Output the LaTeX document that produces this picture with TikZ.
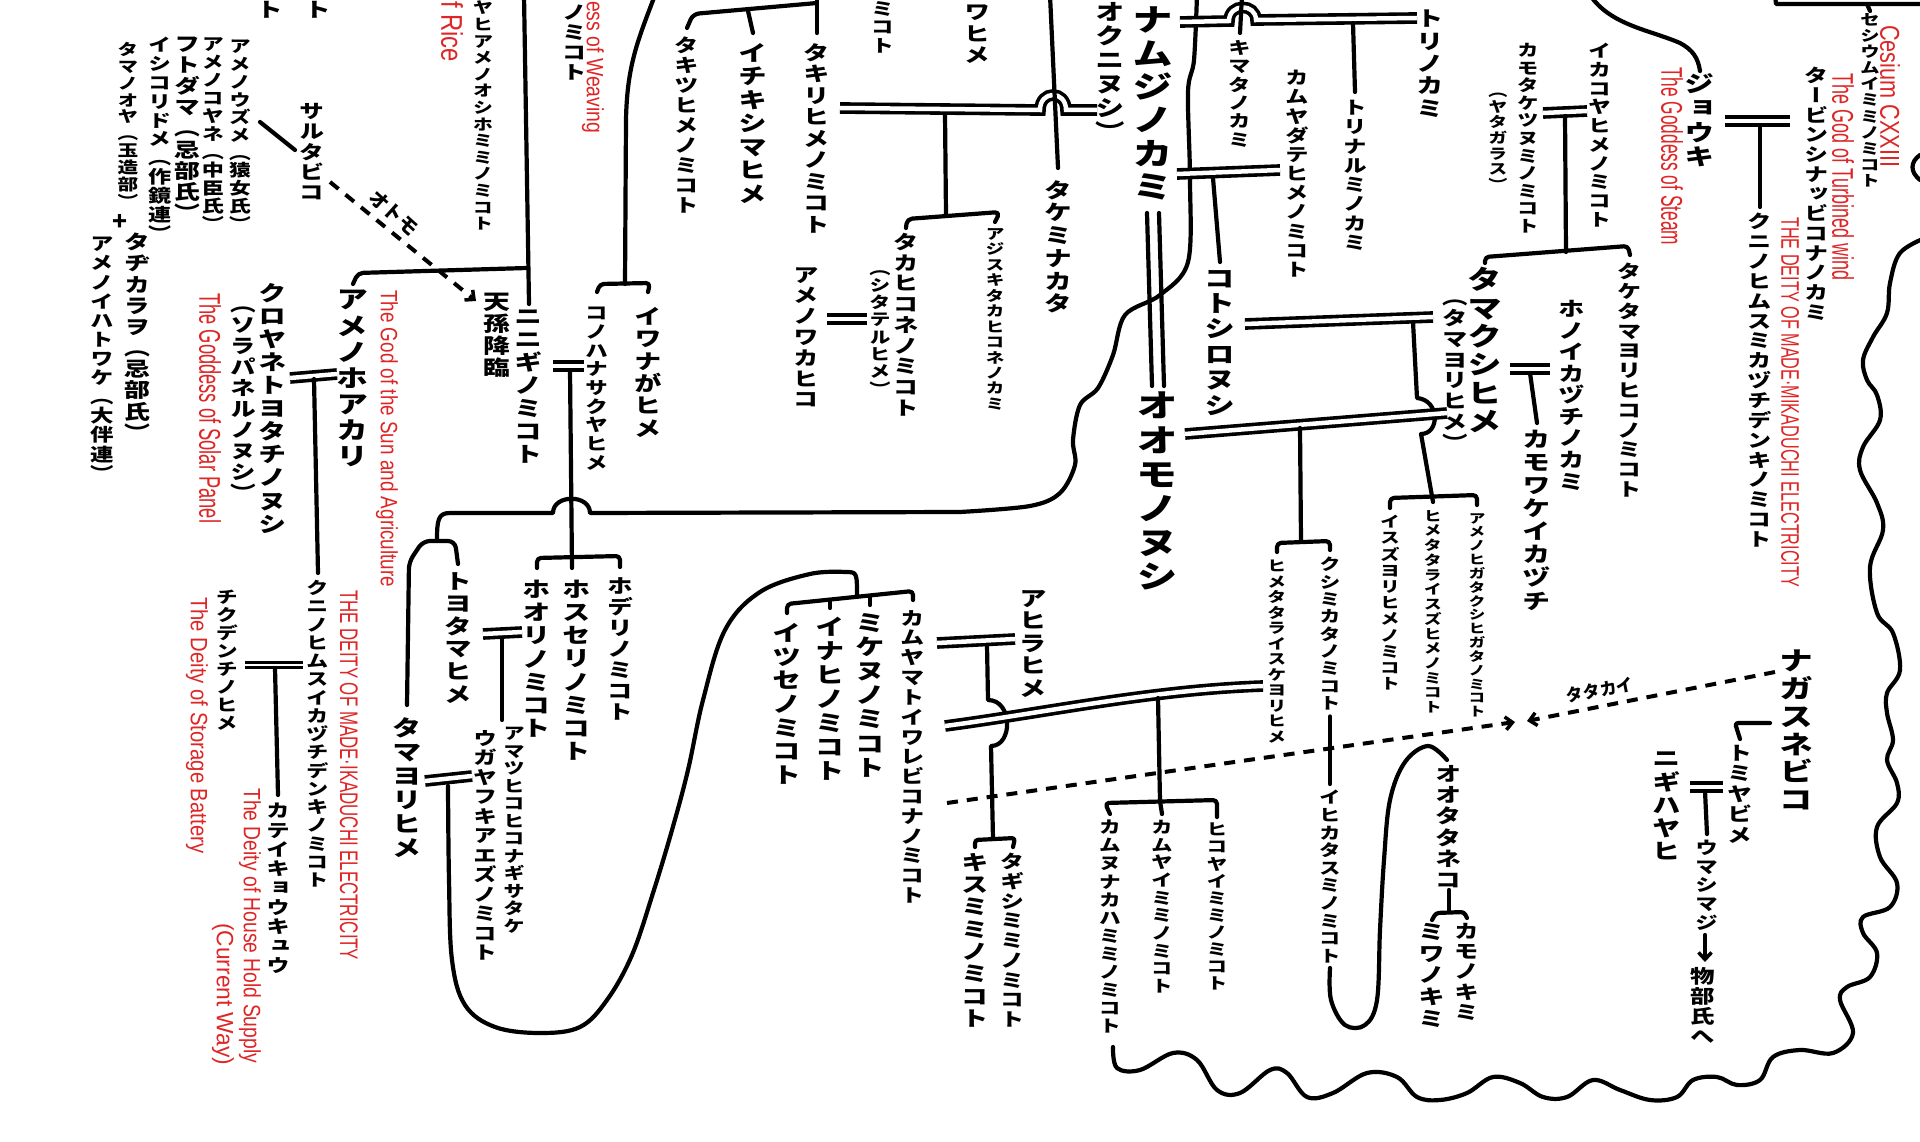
\documentclass[tikz,border=0pt]{standalone}
\usepackage{fontspec}
\usepackage{graphicx}
\usetikzlibrary{arrows.meta}
\newfontfamily\jpv{Noto Sans CJK JP}[RawFeature=+vert]
\newfontfamily\jph{Noto Sans CJK JP}
\newfontfamily\enred{Liberation Sans}
\definecolor{redink}{RGB}{222,38,38}
\makeatletter
\newcommand\vstack[1]{\vbox{\jpv\bfseries\baselineskip=1.06em\lineskiplimit=-\maxdimen\lineskip=0pt\relax\vs@loop#1\relax}}
\def\vs@loop#1{\ifx#1\relax\else\hbox to 1em{\hss#1\hss}\expandafter\vs@loop\fi}
\makeatother
\tikzset{
  vt/.style={inner sep=0pt, anchor=north},
  rt/.style={inner sep=0pt, anchor=west, rotate=-90, text=redink},
  ln/.style={line width=4.2pt, line cap=round, line join=round},
  dbl/.style={draw=black, double=white, double distance=4.5pt, line width=3.6pt},
  dsh/.style={line width=4pt, dash pattern=on 11pt off 9pt},
  barb/.style={-{Straight Barb[length=7pt,width=13pt,line width=3.5pt]}}
}
\newcommand\V[5]{\node[vt] (#1) at (#2,#3) {\scalebox{1.3}[1]{\resizebox*{!}{#4pt}{\vstack{#5}}}};}
\newcommand\R[6]{\node[rt] (#1) at (#2,#3) {\resizebox*{#4pt}{#5pt}{\enred #6}};}
\begin{document}
\begin{tikzpicture}[x=1pt,y=-1pt]
\fill[white] (0,0) rectangle (1920,1142);
\useasboundingbox (0,0) rectangle (1920,1142);

% ---------- text: left group ----------
\V{uzume}{240}{40}{190}{アメノウズメ（猿女氏）}
\V{koyane}{213}{37}{193}{アメノコヤネ（中臣氏）}
\V{futodama}{187}{37}{183}{フトダマ（忌部氏）}
\V{ishikori}{160}{37}{203}{イシコリドメ（作鏡連）}
\V{tamanooya}{128}{42}{165}{タマノオヤ（玉造部）}
\node[inner sep=0] (plus) at (120,222) {\resizebox{15pt}{!}{\jph\bfseries +}};
\V{tajikara}{137}{233}{207}{タヂカラヲ（忌部氏）}
\V{iwato}{102}{237}{243}{アメノイハトワケ（大伴連）}
\V{saruta}{312}{103}{97}{サルタビコ}
\V{tenson}{497}{293}{84}{天孫降臨}
\V{ninigi}{529}{310}{153}{ニニギノミコト}
\V{konohana}{597}{307}{163}{コノハナサクヤヒメ}
\V{iwanaga}{648}{307}{130}{イワナがヒメ}
\V{hoakari}{353}{290}{177}{アメノホアカリ}
\V{kuroyane}{273}{283}{250}{クロヤネトヨタチノヌシ}
\V{sorapanel}{243}{307}{193}{（ソラパネルノヌシ）}
\V{kuninohimuA}{318}{580}{307}{クニノヒムスイカヅチデンキノミコト}
\V{chikuden}{227}{590}{140}{チクデンチノヒメ}
\V{katei}{278}{803}{170}{カテイキョウキュウ}
\V{toyotama}{458}{572}{131}{トヨタマヒメ}
\V{hoori}{537}{580}{157}{ホオリノミコト}
\V{hosuseri}{577}{580}{180}{ホスセリノミコト}
\V{hoderi}{620}{577}{143}{ホデリノミコト}
\V{amatsu}{514}{727}{206}{アマツヒコヒコナギサタケ}
\V{ugaya}{485}{730}{230}{ウガヤフキアエズノミコト}
\V{tamayoriA}{407}{717}{140}{タマヨリヒメ}
\V{itsuse}{787}{623}{161}{イツセノミコト}
\V{inahi}{830}{617}{163}{イナヒノミコト}
\V{mikenu}{870}{613}{164}{ミケヌノミコト}
\V{kamuyamato}{913}{610}{293}{カムヤマトイワレビコナノミコト}

% ---------- text: top tails ----------
\V{tA}{270}{1}{17}{ト}
\V{tB}{318}{1}{17}{ト}
\V{tC}{483}{1}{229}{ヤヒアメノオシホミミノミコト}
\V{tD}{575}{5}{75}{ノミコト}
\V{tE}{883}{1}{52}{ミコト}
\V{tF}{977}{5}{58}{ワヒメ}
\V{tG}{1110}{2}{138}{オクニヌシ）}
\V{tH}{1153}{7}{193}{ナムジノカミ}
\V{tI}{1430}{10}{107}{トリノカミ}

% ---------- text: middle ----------
\V{takitsu}{687}{37}{176}{タキツヒメノミコト}
\V{ichiki}{753}{43}{160}{イチキシマヒメ}
\V{takiri}{817}{43}{190}{タキリヒメノミコト}
\V{takahikone}{906}{233}{183}{タカヒコネノミコト}
\V{shitateru}{880}{270}{125}{（シタテルヒメ）}
\V{wakahiko}{806}{267}{140}{アメノワカヒコ}
\V{ajisuki}{995}{228}{182}{アジスキタカヒコネノカミ}
\V{takemina}{1058}{180}{133}{タケミナカタ}
\V{kimata}{1240}{40}{107}{キマタノカミ}
\V{torinaru}{1355}{100}{150}{トリナルミノカミ}
\V{kamuyadate}{1297}{70}{207}{カムヤダテヒメノミコト}
\V{kotoshiro}{1220}{270}{145}{コトシロヌシ}
\V{omono}{1157}{392}{198}{オオモノヌシ}
\V{tamakushi}{1485}{267}{166}{タマクシヒメ}
\V{tamayoriB}{1455}{300}{150}{（タマヨリヒメ）}
\V{kamotake}{1528}{43}{190}{カモタケツヌミノミコト}
\V{yatagarasu}{1498}{93}{97}{（ヤタガラス）}
\V{ikakoya}{1600}{43}{184}{イカコヤヒメノミコト}
\V{taketama}{1630}{263}{234}{タケタマヨリヒコノミコト}
\V{honoikazuchi}{1572}{300}{190}{ホノイカヅチノカミ}
\V{kamowake}{1537}{430}{180}{カモワケイカヅチ}
\V{jouki}{1700}{73}{94}{ジョウキ}
\V{kuninohimuB}{1760}{213}{334}{クニノヒムスミカヅチデンキノミコト}
\V{turbine}{1817}{67}{253}{タービンシナッビコナノカミ}
\V{cesium}{1870}{13}{174}{セシウムイミミノミコト}
\V{isuzuyori}{1390}{515}{175}{イスズヨリヒメノミコト}
\V{himetatarai}{1433}{510}{203}{ヒメタタライスズヒメノミコト}
\V{amenohigata}{1477}{513}{204}{アメノヒガタクシヒガタノミコト}
\V{himesuke}{1277}{560}{183}{ヒメタタライスケヨリヒメ}
\V{kushimikata}{1330}{557}{153}{クシミカタノミコト}
\V{ihikata}{1330}{790}{173}{イヒカタスミノミコト}
\V{ootataneko}{1449}{765}{123}{オオタタネコ}
\V{miwa}{1432}{923}{104}{ミワノキミ}
\V{kamonokimi}{1467}{923}{97}{カモノキミ}
\V{ahira}{1033}{590}{107}{アヒラヒメ}
\V{kisumimi}{975}{853}{174}{キスミミノミコト}
\V{tagishi}{1013}{853}{174}{タギシミミノミコト}
\V{kamununa}{1110}{820}{213}{カムヌナカハミミノミコト}
\V{kamuyai}{1162}{820}{173}{カムヤイミミノミコト}
\V{hikoyai}{1217}{823}{167}{ヒコヤイミミノミコト}
\V{nagasune}{1797}{650}{160}{ナガスネビコ}
\V{tomiya}{1740}{745}{98}{トミヤビメ}
\V{nigihaya}{1667}{752}{108}{ニギハヤヒ}
\V{umashi}{1707}{840}{90}{ウマシマジ}
\V{mononobe}{1703}{967}{76}{物部氏へ}

% ---------- red notes ----------
\R{rA}{452}{1}{61}{22}{f Rice}
\R{rB}{593}{1}{132}{22}{ess of Weaving}
\R{rC}{387}{290}{297}{22}{The God of the Sun and Agriculture}
\R{rD}{210}{293}{230}{22}{The Goddess of Solar Panel}
\R{rE}{349}{590}{370}{18}{THE DEITY OF MADE·IKADUCHI ELECTRICITY}
\R{rF}{197}{597}{256}{22}{The Deity of Storage Battery}
\R{rG}{250}{788}{275}{22}{The Deity of House Hold Supply}
\R{rH}{223}{923}{142}{22}{(Current Way)}
\R{rI}{1890}{25}{142}{20}{Cesium CXXIII}
\R{rJ}{1672}{67}{178}{22}{The Goddess of Steam}
\R{rK}{1843}{73}{207}{22}{The God of Turbined wind}
\R{rL}{1790}{217}{370}{18}{THE DEITY OF MADE·MIKADUCHI ELECTRICITY}

% ---------- connectors: left ----------
\draw[ln] (260,122) -- (295,150);
\draw[dsh, barb] (330,182) -- (476,301);
\node[rotate=-42, inner sep=0] (otomo) at (394,213) {\resizebox{58pt}{!}{\jph\bfseries オトモ}};
\draw[ln] (524,-5) -- ([yshift=6pt]ninigi.north);
\draw[ln, rounded corners=5pt] (527,268) -- (358,273) -- ([yshift=6pt]hoakari.north);
\draw[ln] (655,-5) .. controls (638,40) and (627,65) .. (626,120) -- (625,284);
\draw[ln, rounded corners=4pt] ([yshift=15pt]konohana.north) -- (600,284) -- (650,283) -- ([yshift=15pt]iwanaga.north);
\draw[dbl] (553,366) -- (584,366);
\draw[ln] (570,370) -- (572,568);
\draw[ln, rounded corners=4pt] ([yshift=12pt]hoori.north) -- (537,558) -- (620,556) -- ([yshift=10pt]hoderi.north);
% long curvy parent line with hop
\draw[ln] plot[smooth, tension=0.55] coordinates {(1197,-5) (1194,60) (1188,92) (1190,180) (1188,262) (1160,295) (1125,315) (1113,355) (1098,388) (1080,405) (1073,440) (1075,465) (1060,493) (1030,506) (960,512)} -- (590,513) .. controls (590,494) and (553,494) .. (553,513) -- (450,513) .. controls (438,513) and (437,520) .. (437,541);
\draw[ln, rounded corners=7pt] ([yshift=12pt]tamayoriA.north) -- (409,562) -- (423,541) -- (455,541) -- ([yshift=8pt]toyotama.north);
\draw[dbl] (483,634) -- (522,632);
\draw[ln] (502,638) -- (502,720);
\draw[dbl] (425,781) -- (472,776);
\draw[ln] plot[smooth, tension=0.6] coordinates {(448,786) (449,880) (452,960) (465,1005) (495,1027) (540,1033) (580,1027) (607,1000) (632,955) (653,893) (672,830) (688,770) (703,700) (725,630) (760,592) (810,574) (845,572)} .. controls (857,572) .. (857,597);
\draw[ln, rounded corners=4pt] ([yshift=10pt]itsuse.north) -- (787,604) -- (913,591) -- ([yshift=10pt]kamuyamato.north);
\draw[ln] (830,600) -- ([yshift=9pt]inahi.north);
\draw[ln] (870,596) -- ([yshift=8pt]mikenu.north);

% ---------- connectors: middle ----------
\draw[ln] (817,-5) -- ([yshift=10pt]takiri.north);
\draw[ln, rounded corners=6pt] (817,3) -- (693,14) -- ([yshift=9pt]takitsu.north);
\draw[ln] (748,11) -- ([yshift=10pt]ichiki.north);
\draw[dbl] (840,108) -- (1040,110) .. controls (1040,90) and (1066,90) .. (1066,110) -- (1097,110);
\draw[ln] (945,114) -- (946,215);
\draw[ln, rounded corners=5pt] ([yshift=5pt]takahikone.north) -- (907,219) -- (1000,212) -- ([yshift=6pt]ajisuki.north);
\draw[dbl] (827,319) -- (867,319);
\draw[ln] (1050,-5) -- ([yshift=12pt]takemina.north);
\draw[ln] (1147,213) -- (1152,386);
\draw[ln] (1159,213) -- (1164,386);
\draw[dbl] (1180,22) -- (1229,21) .. controls (1229,3) and (1256,3) .. (1256,20) -- (1417,18);
\draw[ln] (1242,-5) -- ([yshift=7pt]kimata.north);
\draw[ln] (1353,23) -- ([yshift=8pt]torinaru.north);
\draw[dbl] (1177,174) -- (1280,170);
\draw[ln] (1213,178) -- ([yshift=8pt]kotoshiro.north);
\draw[dbl] (1245,324) -- (1433,317);
\draw[ln] (1413,322) -- (1417,398) .. controls (1440,400) and (1440,434) .. (1421,434) -- ([yshift=8pt]himetatarai.north);
\draw[dbl] (1185,434) -- (1447,413);
\draw[ln] (1300,428) -- (1301,541);
\draw[ln, rounded corners=4pt] ([yshift=8pt]himesuke.north) -- (1277,543) -- (1330,541) -- ([yshift=7pt]kushimikata.north);
\draw[ln, rounded corners=4pt] ([yshift=7pt]isuzuyori.north) -- (1390,498) -- (1477,495) -- ([yshift=8pt]amenohigata.north);
\draw[ln] ([yshift=-6pt]kushimikata.south) -- ([yshift=6pt]ihikata.north);
\draw[ln] plot[smooth, tension=0.6] coordinates {(1330,968) (1331,1000) (1345,1025) (1365,1025) (1377,1000) (1380,930) (1384,860) (1390,800) (1405,762) (1428,746) (1447,760)};
\draw[ln] (1449,890) -- (1449,912);
\draw[ln, rounded corners=3pt] ([yshift=3pt]miwa.north) -- (1436,913) -- (1464,912) -- ([yshift=5pt]kamonokimi.north);
\draw[dbl] (937,643) -- (1015,639);
\draw[ln] (987,645) -- (988,700) .. controls (1013,700) and (1013,746) .. (991,746) -- (993,839);
\draw[ln, rounded corners=3pt] ([yshift=6pt]kisumimi.north) -- (975,840) -- (1015,838) -- ([yshift=6pt]tagishi.north);
\draw[dbl] (945,726) .. controls (1050,712) and (1150,690) .. (1263,686);
\draw[ln] (1158,698) -- (1160,801);
\draw[ln, rounded corners=4pt] ([yshift=6pt]kamununa.north) -- (1105,803) -- (1217,800) -- ([yshift=6pt]hikoyai.north);
\draw[ln] (1160,801) -- ([yshift=6pt]kamuyai.north);
\draw[dsh, barb] (947,803) -- (1515,722);
\draw[dsh, barb] (1775,672) -- (1527,721);
\node[rotate=11, inner sep=0] (tatakai) at (1600,690) {\resizebox{68pt}{!}{\jph\bfseries タタカイ}};

% ---------- connectors: right ----------
\draw[ln, rounded corners=3pt] (1770,723) -- (1735,723) -- ([yshift=6pt]tomiya.north);
\draw[dbl] (1690,787) -- (1723,787);
\draw[ln] (1705,791) -- ([yshift=6pt]umashi.north);
\draw[ln, barb] (1705,935) -- (1705,962);
\draw[dbl] (1510,369) -- (1550,369);
\draw[ln] (1530,373) -- ([yshift=7pt]kamowake.north);
\draw[dbl] (1543,113) -- (1587,111);
\draw[ln] (1565,116) -- (1566,252);
\draw[ln, rounded corners=4pt] ([yshift=4pt]tamakushi.north) -- (1485,257) -- (1628,246) -- ([yshift=8pt]taketama.north);
\draw[dbl] (1725,121) -- (1790,121);
\draw[ln] (1760,125) -- ([yshift=6pt]kuninohimuB.north);
\draw[ln] (1590,-5) .. controls (1610,25) and (1650,30) .. (1680,43) .. controls (1693,50) and (1698,58) .. ([yshift=2pt]jouki.north);
\draw[ln] (1775,-5) -- (1776,4) -- (1925,4);
\draw[ln] (1867,4) -- ([yshift=2pt]cesium.north);
\draw[dbl, line width=3pt, double distance=1.5pt] (245,665) -- (303,665);
\draw[ln] (275,668) -- ([yshift=8pt]katei.north);
\draw[dbl] (290,378) -- (337,374);
\draw[ln] (314,379) -- ([yshift=7pt]kuninohimuA.north);
\draw[ln] (1920,155) .. controls (1910,162) and (1910,172) .. (1920,180);

% ---------- wavy border ----------
\draw[ln] plot[smooth, tension=0.6] coordinates {(1113,1047) (1117,1068) (1140,1070) (1173,1053) (1197,1060) (1217,1090) (1240,1093) (1270,1070) (1287,1073) (1307,1097) (1333,1093) (1367,1073) (1397,1077) (1417,1097) (1440,1100) (1467,1093) (1493,1077) (1520,1083) (1543,1097) (1567,1097) (1593,1080) (1620,1090) (1650,1100) (1677,1097) (1693,1080) (1717,1077) (1737,1085) (1760,1080) (1773,1057) (1800,1050) (1833,1053) (1853,1033) (1840,1000) (1847,987) (1870,977) (1877,953) (1863,933) (1863,917) (1890,907) (1897,883) (1880,857) (1877,827) (1897,803) (1897,783) (1887,760) (1893,740) (1887,713) (1887,693) (1900,670) (1893,633) (1877,613) (1870,567) (1883,530) (1877,503) (1860,470) (1863,447) (1880,420) (1877,395) (1867,380) (1863,360) (1873,337) (1887,313) (1890,283) (1900,253) (1925,238)};
\end{tikzpicture}
\end{document}
